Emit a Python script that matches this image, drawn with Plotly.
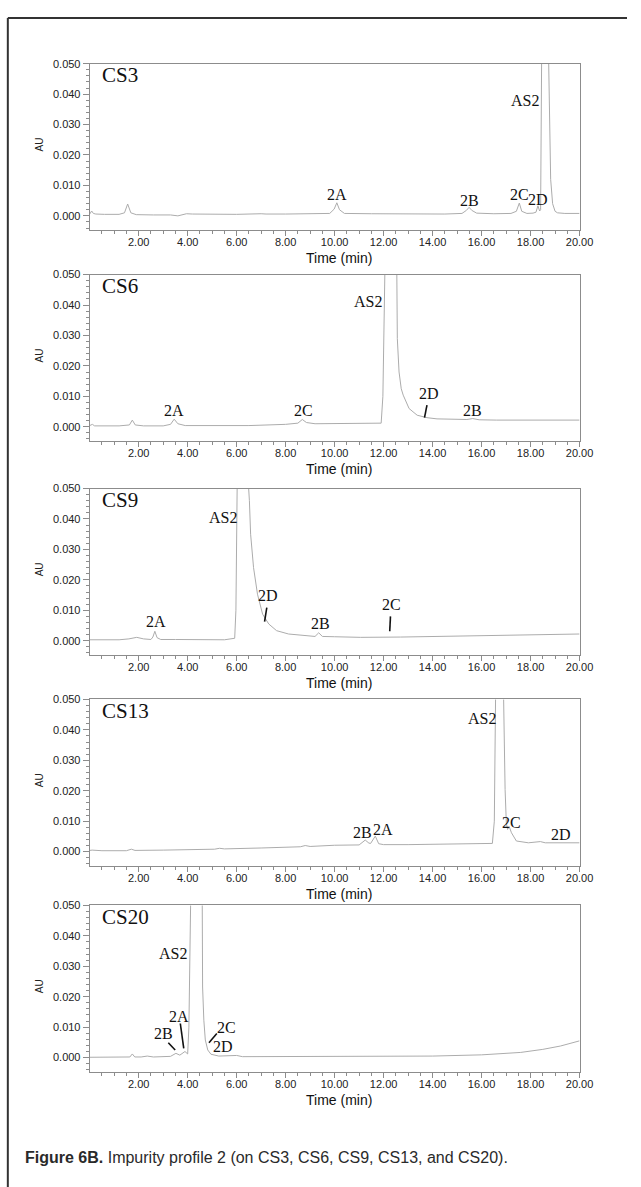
import plotly.graph_objects as go

W, H = 641, 1187

# ---------------- data ----------------
panel_names = ["CS3", "CS6", "CS9", "CS13", "CS20"]

t_cs3 = [0.0, 0.08, 0.15, 0.25, 0.6, 1.2, 1.42, 1.55, 1.68, 1.9, 2.6, 3.3, 3.6, 3.8, 3.95, 4.2, 5.0, 6.0, 7.0, 7.2,
         8.0, 9.0, 9.8, 9.98, 10.09, 10.2, 10.4, 11.5, 13.0, 14.5, 15.2, 15.38, 15.49, 15.6, 15.8, 16.5, 17.2, 17.42,
         17.54, 17.64, 17.85, 18.1, 18.22, 18.30, 18.37, 18.41, 18.45, 18.58, 18.74, 18.82, 18.9, 19.0, 19.1, 19.4, 20.0]
au_cs3 = [0.0006, 0.0016, 0.0008, 0.0006, 0.0005, 0.0005, 0.0010, 0.0039, 0.0010, 0.0004, 0.0003, 0.0003, 0.0000,
          0.0004, 0.0007, 0.0006, 0.0005, 0.0005, 0.0007, 0.0006, 0.0006, 0.0007, 0.0008, 0.0022, 0.0043, 0.0020,
          0.0008, 0.0007, 0.0006, 0.0006, 0.0008, 0.0018, 0.0028, 0.0018, 0.0009, 0.0007, 0.0008, 0.0015, 0.0042,
          0.0015, 0.0008, 0.0009, 0.0012, 0.0033, 0.0016, 0.0020, 0.05, 0.25, 0.05, 0.012, 0.004, 0.0015, 0.0010,
          0.0008, 0.0008]

t_cs6 = [0.0, 0.11, 0.2, 0.5, 1.2, 1.62, 1.74, 1.86, 2.2, 3.0, 3.3, 3.45, 3.6, 3.9, 5.0, 6.5, 8.0, 8.5, 8.68, 8.85,
         9.2, 10.5, 11.9, 11.97, 12.05, 12.3, 12.52, 12.56, 12.63, 12.72, 12.80, 13.04, 13.37, 13.77, 14.18, 14.99,
         15.4, 15.64, 15.9, 16.6, 18.0, 20.0]
au_cs6 = [0.0004, 0.0008, 0.0003, 0.0003, 0.0003, 0.0006, 0.0022, 0.0006, 0.0003, 0.0003, 0.0008, 0.0025, 0.0010,
          0.0004, 0.0003, 0.0004, 0.0008, 0.0012, 0.0024, 0.0014, 0.0010, 0.0011, 0.0012, 0.01, 0.05, 0.3, 0.05,
          0.029, 0.018, 0.0125, 0.0104, 0.0060, 0.0038, 0.0030, 0.0026, 0.0024, 0.0024, 0.0027, 0.0023, 0.0022,
          0.0022, 0.0022]

t_cs9 = [0.0, 0.13, 0.5, 1.2, 1.6, 1.92, 2.2, 2.5, 2.58, 2.66, 2.75, 2.9, 3.5, 4.5, 5.5, 5.92, 5.97, 6.02, 6.25, 6.49,
         6.52, 6.57, 6.69, 6.85, 7.06, 7.31, 7.63, 8.12, 8.77, 9.2, 9.35, 9.5, 10.0, 11.06, 12.69, 14.5, 15.95, 18.0,
         20.0]
au_cs9 = [0.0003, 0.0003, 0.0003, 0.0003, 0.0006, 0.0011, 0.0006, 0.0004, 0.0012, 0.0031, 0.0010, 0.0004, 0.0004,
          0.0003, 0.0003, 0.0008, 0.01, 0.05, 0.4, 0.05, 0.046, 0.035, 0.024, 0.0153, 0.0087, 0.0055, 0.0033, 0.0022,
          0.0016, 0.0014, 0.0026, 0.0014, 0.0013, 0.0011, 0.0012, 0.0014, 0.0016, 0.0019, 0.0022]

t_cs13 = [0.0, 0.1, 0.5, 1.5, 1.7, 1.85, 3.0, 4.0, 5.1, 5.3, 5.5, 7.0, 8.6, 8.8, 9.0, 10.0, 11.0, 11.25, 11.4, 11.47,
          11.66, 11.8, 12.0, 13.0, 14.32, 15.5, 16.44, 16.52, 16.57, 16.7, 16.9, 16.96, 17.01, 17.06, 17.13, 17.22,
          17.42, 17.91, 18.2, 18.4, 18.6, 20.0]
au_cs13 = [0.0004, 0.0005, 0.0003, 0.0003, 0.0008, 0.0004, 0.0005, 0.0007, 0.0008, 0.0011, 0.0009, 0.0012, 0.0016,
           0.0020, 0.0017, 0.0021, 0.0022, 0.0038, 0.0028, 0.0027, 0.0051, 0.0026, 0.0023, 0.0023, 0.0024, 0.0025,
           0.0027, 0.01, 0.05, 0.35, 0.05, 0.0204, 0.0095, 0.0073, 0.0082, 0.0062, 0.0035, 0.0029, 0.0030, 0.0033,
           0.0029, 0.0029]

t_cs20 = [0.0, 0.08, 0.5, 1.5, 1.64, 1.74, 1.84, 2.1, 2.35, 2.6, 3.0, 3.3, 3.52, 3.68, 3.89, 4.0, 4.05, 4.12, 4.35,
          4.57, 4.61, 4.66, 4.72, 4.82, 4.95, 5.27, 5.8, 6.0, 6.24, 8.0, 10.0, 12.73, 14.0, 16.0, 17.6, 18.5, 19.22,
          20.0]
au_cs20 = [0.0001, 0.0001, 0.0001, 0.0001, 0.0002, 0.0012, 0.0002, 0.0002, 0.0005, 0.0002, 0.0002, 0.0004, 0.0014,
           0.0008, 0.0020, 0.0012, 0.01, 0.05, 0.5, 0.05, 0.0232, 0.0123, 0.0058, 0.0025, 0.0011, 0.0005, 0.0005,
           0.0007, 0.0003, 0.0003, 0.0003, 0.0003, 0.0005, 0.0009, 0.0017, 0.0027, 0.0038, 0.0055]

# peak labels
lab_cs3 = ["2A", "2B", "2C", "2D", "AS2"]
lab_cs3_t = [10.09, 15.49, 17.54, 18.32, 17.78]
lab_cs3_au = [0.0070, 0.0052, 0.0070, 0.0054, 0.0378]

lab_cs6 = ["2A", "2C", "AS2", "2D", "2B"]
lab_cs6_t = [3.45, 8.73, 11.38, 13.85, 15.64]
lab_cs6_au = [0.0052, 0.0052, 0.0412, 0.0109, 0.0052]

lab_cs9 = ["2A", "AS2", "2D", "2B", "2C"]
lab_cs9_t = [2.71, 5.43, 7.26, 9.43, 12.33]
lab_cs9_au = [0.0063, 0.0406, 0.0147, 0.0055, 0.0120]

lab_cs13 = ["2B", "2A", "AS2", "2C", "2D"]
lab_cs13_t = [11.14, 11.99, 16.0, 17.22, 19.24]
lab_cs13_au = [0.0062, 0.0073, 0.0438, 0.0097, 0.0057]

lab_cs20 = ["2B", "2A", "AS2", "2C", "2D"]
lab_cs20_t = [3.0, 3.65, 3.41, 5.6, 5.43]
lab_cs20_au = [0.0079, 0.0136, 0.0342, 0.0099, 0.0036]

# leader lines (start/end time, start/end AU)
lead_cs3 = []
lead_cs6 = [([13.77, 13.67], [0.0071, 0.0030])]
lead_cs9 = [([7.23, 7.14], [0.0109, 0.0063]), ([12.28, 12.25], [0.0080, 0.0031])]
lead_cs13 = []
lead_cs20 = [([3.21, 3.49], [0.0049, 0.0025]), ([3.70, 3.84], [0.0112, 0.0030]), ([5.19, 4.87], [0.0079, 0.0049])]

x_ticks = [2, 4, 6, 8, 10, 12, 14, 16, 18, 20]
x_minor = [i * 0.5 for i in range(1, 41)]
y_ticks = [0.0, 0.01, 0.02, 0.03, 0.04, 0.05]
y_minor = [round(-0.004 + i * 0.002, 3) for i in range(0, 28)]

title_t = 0.42
title_au = 0.0463
au_label_value = 0.0235

# ---------------- layout ----------------
panels = [
    (t_cs3, au_cs3, lab_cs3, lab_cs3_t, lab_cs3_au, lead_cs3),
    (t_cs6, au_cs6, lab_cs6, lab_cs6_t, lab_cs6_au, lead_cs6),
    (t_cs9, au_cs9, lab_cs9, lab_cs9_t, lab_cs9_au, lead_cs9),
    (t_cs13, au_cs13, lab_cs13, lab_cs13_t, lab_cs13_au, lead_cs13),
    (t_cs20, au_cs20, lab_cs20, lab_cs20_t, lab_cs20_au, lead_cs20),
]
panel_top_px = [58, 270, 485, 697, 904]
panel_h_px = 167
x_left_px, x_right_px = 91.7, 592.5
Y_RANGE = [-0.0046, 0.050]
X_RANGE = [0.0, 20.0]

AXIS_GRAY = "#8c8c8c"
TRACE_GRAY = "#acacac"
SERIF = "Liberation Serif, Times New Roman, serif"
SANS = "Liberation Sans, Arial, sans-serif"

fig = go.Figure()
annotations = []
layout_axes = {}

for i, (t, au, labs, lt, la, leads) in enumerate(panels):
    n = i + 1
    xa = "x" if n == 1 else f"x{n}"
    ya = "y" if n == 1 else f"y{n}"
    top = panel_top_px[i]
    bot = top + panel_h_px
    fig.add_trace(go.Scatter(x=t, y=au, mode="lines", xaxis=xa, yaxis=ya,
                             line=dict(color=TRACE_GRAY, width=1), showlegend=False, hoverinfo="skip"))
    for (lx, ly) in leads:
        fig.add_trace(go.Scatter(x=lx, y=ly, mode="lines", xaxis=xa, yaxis=ya,
                                 line=dict(color="#111111", width=1.6), showlegend=False, hoverinfo="skip"))
    common = dict(showgrid=False, zeroline=False, showline=True, linecolor=AXIS_GRAY, linewidth=1,
                  mirror=True, ticks="outside", tickcolor=AXIS_GRAY, tickwidth=1,
                  tickfont=dict(family=SANS, size=11, color="#222222"))
    layout_axes["xaxis" if n == 1 else f"xaxis{n}"] = dict(
        common, domain=[x_left_px / W, x_right_px / W], range=X_RANGE, anchor=ya,
        tickvals=x_ticks, ticktext=[f"{v:.2f}" for v in x_ticks], ticklen=5, ticklabelstandoff=-3,
        minor=dict(tickvals=x_minor, ticklen=3, tickcolor=AXIS_GRAY, ticks="outside"))
    layout_axes["yaxis" if n == 1 else f"yaxis{n}"] = dict(
        common, domain=[1 - bot / H, 1 - top / H], range=Y_RANGE, anchor=xa,
        tickvals=y_ticks, ticktext=[f"{v:.3f}" for v in y_ticks], ticklen=6,
        minor=dict(tickvals=y_minor, ticklen=3, tickcolor=AXIS_GRAY, ticks="outside"))

    # panel title
    annotations.append(dict(x=title_t, y=title_au, xref=xa, yref=ya, text=panel_names[i],
                            showarrow=False, xanchor="left", yanchor="middle",
                            font=dict(family=SERIF, size=21, color="#111111")))
    # peak labels
    for name, px_, py_ in zip(labs, lt, la):
        annotations.append(dict(x=px_, y=py_, xref=xa, yref=ya, text=name, showarrow=False,
                                xanchor="center", yanchor="middle",
                                font=dict(family=SERIF, size=16, color="#111111")))
    # AU label
    annotations.append(dict(x=40 / W, y=au_label_value, xref="paper", yref=ya, text="AU",
                            showarrow=False, textangle=-90, xanchor="center", yanchor="middle",
                            font=dict(family=SANS, size=10, color="#222222")))
    # Time (min)
    annotations.append(dict(x=347 / W, y=0, xref="paper", yref=f"{ya} domain", text="Time (min)",
                            showarrow=False, xanchor="center", yanchor="top", yshift=-18,
                            font=dict(family=SANS, size=14, color="#111111")))

# caption
annotations.append(dict(x=24 / W, y=1 - 1157 / H, xref="paper", yref="paper",
                        text="<b>Figure 6B.</b> Impurity profile 2 (on CS3, CS6, CS9, CS13, and CS20).",
                        showarrow=False, xanchor="left", yanchor="middle",
                        font=dict(family=SANS, size=16, color="#2a2a2a")))

shapes = [
    dict(type="line", xref="paper", yref="paper", x0=8 / W, x1=1.0, y0=1 - 12 / H, y1=1 - 12 / H,
         line=dict(color="#333333", width=2)),
    dict(type="line", xref="paper", yref="paper", x0=8 / W, x1=8 / W, y0=0, y1=1 - 12 / H,
         line=dict(color="#333333", width=2)),
]

fig.update_layout(width=W, height=H, margin=dict(l=0, r=0, t=0, b=0),
                  paper_bgcolor="white", plot_bgcolor="white",
                  annotations=annotations, shapes=shapes, showlegend=False, **layout_axes)

fig.write_html("out.html")
